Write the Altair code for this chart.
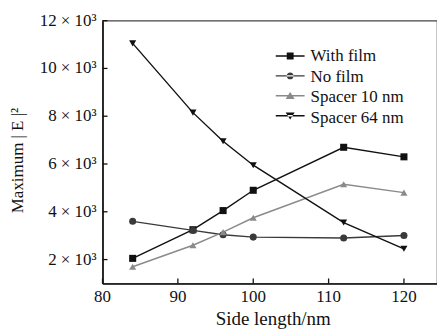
import altair as alt
import pandas as pd

# ---- data ----
side_length = [84, 92, 96, 100, 112, 120]
with_film = [2050, 3250, 4050, 4900, 6700, 6300]
no_film = [3600, 3220, 3040, 2940, 2900, 3010]
spacer_10 = [1700, 2600, 3150, 3750, 5150, 4800]
spacer_64 = [11050, 8150, 6950, 5950, 3550, 2450]

series_names = ["With film", "No film", "Spacer 10 nm", "Spacer 64 nm"]
series_values = [with_film, no_film, spacer_10, spacer_64]
series_colors = ["#111111", "#3a3a3a", "#8a8a8a", "#111111"]
marker_shapes = ["square", "circle", "triangle-up", "triangle-down"]

x_ticks = [80, 90, 100, 110, 120]
y_ticks = [2000, 4000, 6000, 8000, 10000, 12000]

rows = []
for name, vals in zip(series_names, series_values):
    for xv, yv in zip(side_length, vals):
        rows.append({"x": xv, "y": yv, "series": name})
df = pd.DataFrame(rows)

FONT = "Liberation Serif, Times New Roman, serif"
W, H = 336, 264

xscale = alt.Scale(domain=[80, 80 + W / 7.57], nice=False, zero=False)
yscale = alt.Scale(domain=[1000, 12000], nice=False, zero=False)

def xenc(field="x"):
    return alt.X(
        f"{field}:Q", scale=xscale,
        axis=alt.Axis(values=x_ticks, tickSize=0, labels=False, grid=False,
                      domainColor="#111111", domainWidth=1.6,
                      title="Side length/nm", titleFont=FONT, titleFontSize=19,
                      titleFontWeight="normal", titleColor="#111111",
                      titleX=171, titleY=41, titleBaseline="alphabetic"),
    )

def yenc(field="y"):
    return alt.Y(
        f"{field}:Q", scale=yscale,
        axis=alt.Axis(values=y_ticks, tickSize=0, labels=False, grid=False,
                      domainColor="#111111", domainWidth=1.6,
                      title="Maximum | E |\u00b2", titleFont=FONT, titleFontSize=17,
                      titleFontWeight="normal", titleColor="#111111",
                      titleX=-85, titleY=140, titleBaseline="middle", titleAngle=270),
    )

color_scale = alt.Scale(domain=series_names, range=series_colors)

lines = alt.Chart(df).mark_line(strokeWidth=1.4).encode(
    x=xenc(), y=yenc(),
    color=alt.Color("series:N", scale=color_scale, legend=None),
    detail="series:N",
)

points = alt.Chart(df).mark_point(filled=True, size=50, opacity=1).encode(
    x=xenc(), y=yenc(),
    color=alt.Color("series:N", scale=color_scale, legend=None),
    shape=alt.Shape("series:N", scale=alt.Scale(domain=series_names, range=marker_shapes), legend=None),
)

# legend symbols: line segment + marker (unit coords scaled by r = 10.5 px)
seg = "M-1.38,-0.067H1.38V0.067H-1.38Z"
legend_paths = [
    seg + "M-0.33,-0.33H0.33V0.33H-0.33Z",
    seg + "M-0.33,0A0.33,0.33 0 1,0 0.33,0A0.33,0.33 0 1,0 -0.33,0Z",
    seg + "M0,-0.36L0.43,0.3H-0.43Z",
    seg + "M0,0.36L0.43,-0.3H-0.43Z",
]

leg = alt.Legend(
    orient="none", legendX=178, legendY=25, title=None, padding=0,
    symbolSize=441, symbolStrokeWidth=0, labelFontSize=18, labelExpr="''",
    labelOffset=10, rowPadding=0)

legend_layer = alt.Chart(df).transform_filter("false").mark_point(filled=True, opacity=1).encode(
    x=xenc(), y=yenc(),
    color=alt.Color("series:N", scale=color_scale, legend=leg),
    shape=alt.Shape("series:N", scale=alt.Scale(domain=series_names, range=legend_paths), legend=leg),
)

# legend labels as text
legend_labels = []
for i, name in enumerate(series_names):
    legend_labels.append(
        alt.Chart(pd.DataFrame({"series": [name]})).mark_text(
            font=FONT, fontSize=17, color="#111111", align="left", baseline="middle"
        ).encode(text="series:N", x=alt.value(209), y=alt.value(35.5 + 20.8 * i))
    )

# inward tick marks and tick labels
xt = pd.DataFrame({"tx": x_ticks})
yt = pd.DataFrame({"ty": y_ticks})
xtick_layer = alt.Chart(xt).mark_rule(color="#111111", strokeWidth=1.3).encode(
    x=xenc("tx"), y=alt.value(H), y2=alt.value(H - 5),
)
ytick_layer = alt.Chart(yt).mark_rule(color="#111111", strokeWidth=1.3).encode(
    y=yenc("ty"), x=alt.value(0), x2=alt.value(5),
)
xlabel_layer = alt.Chart(xt).mark_text(
    font=FONT, fontSize=17, color="#111111", align="center", baseline="top"
).encode(x=xenc("tx"), y=alt.value(H + 6), text="tx:Q")
ylabel_layer = alt.Chart(yt).transform_calculate(
    lab="datum.ty / 1000 + ' \u00d7 10\u00b3'"
).mark_text(
    font=FONT, fontSize=17, color="#111111", align="right", baseline="middle"
).encode(y=yenc("ty"), x=alt.value(-6), text="lab:N")

chart = alt.layer(
    lines, points, legend_layer, xtick_layer, ytick_layer, xlabel_layer, ylabel_layer, *legend_labels
).resolve_scale(
    color="independent", shape="independent"
).properties(
    width=W, height=H,
    autosize=alt.AutoSizeParams(type="none"),
    padding={"left": 103, "top": 20, "right": 0, "bottom": 45},
    background="white",
).configure_view(stroke="#444444", strokeWidth=1.2)

chart.save("out.html", embed_options={"renderer": "svg", "actions": False})
